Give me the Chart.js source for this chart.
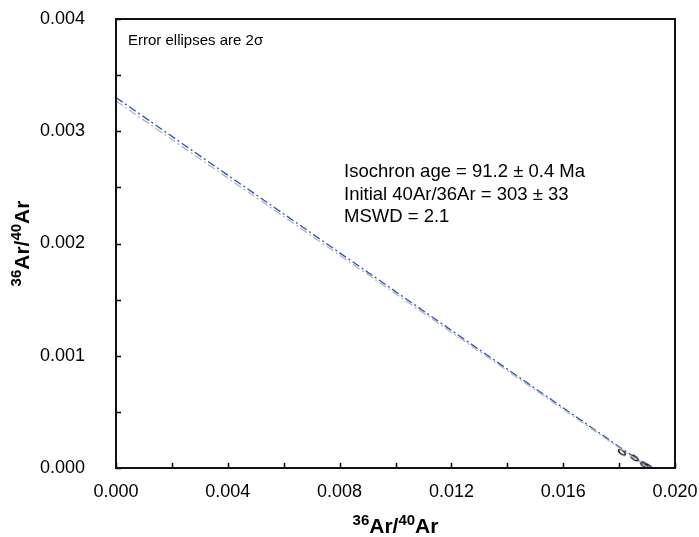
<!DOCTYPE html>
<html>
<head>
<meta charset="utf-8">
<script src="https://cdn.jsdelivr.net/npm/chart.js@4"></script>
<style>
    html, body { margin: 0; padding: 0; background: #fff; }
    #wrap { width: 699px; height: 537px; }
</style>
</head>
<body>
<div id="wrap"><canvas id="iso_chart" width="699" height="537"></canvas></div>
<script>
// isochron fit line and its companion (grey) line, as end points
const fitX = [0, 0.0191]
const fitY = [0.0033, 0]
const refX = [0, 0.01905]
const refY = [0.00327, 0]
// step points (error ellipses) near the x intercept
const stepX = [0.0181, 0.01855, 0.0189, 0.01905]
const stepY = [0.00014, 0.00009, 0.00003, 0.00001]
// axes
const xMin = 0, xMax = 0.020, xStep = 0.002, xLabelStep = 0.004
const yMin = 0, yMax = 0.004, yStep = 0.0005, yLabelStep = 0.001
const notes = ["Isochron age = 91.2 \u00b1 0.4 Ma", "Initial 40Ar/36Ar = 303 \u00b1 33", "MSWD = 2.1"]
const cornerNote = "Error ellipses are 2\u03c3"
const axisTitle = [{t: "36", sup: true}, {t: "Ar/"}, {t: "40", sup: true}, {t: "Ar"}]

const FONT = '"Liberation Sans", Arial, sans-serif'

function pairs(xs, ys) {
    let out = []
    for (let i = 0; i < xs.length; i++) out.push({x: xs[i], y: ys[i]})
    return out
}

function isMultiple(v, step) {
    let q = v / step
    return Math.abs(q - Math.round(q)) < 1e-6
}

// small rotated ellipse used as point marker
function ellipseMarker() {
    let c = document.createElement('canvas')
    c.width = 12
    c.height = 10
    let g = c.getContext('2d')
    g.strokeStyle = '#111'
    g.lineWidth = 1.4
    g.beginPath()
    g.ellipse(6, 5, 4, 1.8, 0.6, 0, Math.PI * 2)
    g.stroke()
    return c
}

function drawRich(ctx, parts, x, y) {
    let big = 'bold 21px ' + FONT
    let small = 'bold 15px ' + FONT
    let w = 0
    parts.forEach(function (p) {
        ctx.font = p.sup ? small : big
        w += ctx.measureText(p.t).width
    })
    let cx = x - w / 2
    ctx.textBaseline = 'alphabetic'
    ctx.textAlign = 'left'
    parts.forEach(function (p) {
        ctx.font = p.sup ? small : big
        ctx.fillText(p.t, cx, p.sup ? y - 8 : y)
        cx += ctx.measureText(p.t).width
    })
}

const framePlugin = {
    id: 'frame',
    afterDraw: function (chart) {
        let ctx = chart.ctx
        let a = chart.chartArea
        let xs = chart.scales.x
        let ys = chart.scales.y
        ctx.save()
        ctx.strokeStyle = '#000'
        ctx.lineWidth = 1.5
        // inward tick marks
        ctx.beginPath()
        ys.ticks.forEach(function (t) {
            let py = Math.round(ys.getPixelForValue(t.value)) + 0.5
            ctx.moveTo(a.left, py)
            ctx.lineTo(a.left + 5, py)
        })
        xs.ticks.forEach(function (t) {
            let px = Math.round(xs.getPixelForValue(t.value)) + 0.5
            ctx.moveTo(px, a.bottom)
            ctx.lineTo(px, a.bottom - 5)
        })
        ctx.stroke()
        // frame
        ctx.lineWidth = 2
        ctx.strokeStyle = '#111'
        ctx.strokeRect(a.left, a.top, a.right - a.left, a.bottom - a.top)

        ctx.fillStyle = '#000'
        ctx.font = '15px ' + FONT
        ctx.textAlign = 'left'
        ctx.textBaseline = 'alphabetic'
        ctx.fillText(cornerNote, a.left + 12, a.top + 26)

        ctx.font = '18.5px ' + FONT
        notes.forEach(function (n, i) {
            ctx.fillText(n, 344, 177 + i * 22.5)
        })

        // axis titles
        drawRich(ctx, axisTitle, (a.left + a.right) / 2, 533)
        ctx.translate(29, (a.top + a.bottom) / 2)
        ctx.rotate(-Math.PI / 2)
        drawRich(ctx, axisTitle, 0, 0)
        ctx.restore()
    }
}

let marker = ellipseMarker()
let ctx = document.getElementById('iso_chart')
let isoChart = new Chart(ctx, {
    type: 'scatter',
    plugins: [framePlugin],
    data: {
        datasets: [{
                type: 'line',
                data: pairs(refX, refY),
                borderColor: '#b4b4b4',
                borderWidth: 1.3,
                borderDash: [8, 3, 2, 3],
                pointRadius: 0,
                fill: false
            },
            {
                type: 'line',
                data: pairs(fitX, fitY),
                borderColor: '#2f4fb8',
                borderWidth: 1.3,
                borderDash: [8, 3, 2, 3],
                pointRadius: 0,
                fill: false
            },
            {
                data: pairs(stepX, stepY),
                pointStyle: marker,
                pointRadius: 5
            }
        ]
    },
    options: {
        responsive: false,
        animation: false,
        layout: {
            padding: {left: 0, top: 19, right: 24, bottom: 0}
        },
        plugins: {
            legend: {display: false},
            tooltip: {enabled: false}
        },
        scales: {
            x: {
                type: 'linear',
                min: xMin,
                max: xMax,
                border: {display: false},
                grid: {display: false, drawTicks: false},
                afterFit: function (s) {
                    s.height = 69
                    s.paddingLeft = 0
                    s.paddingRight = 0
                },
                ticks: {
                    stepSize: xStep,
                    autoSkip: false,
                    maxRotation: 0,
                    padding: 13,
                    color: '#000',
                    font: {family: FONT, size: 18},
                    callback: function (v) {
                        return isMultiple(v, xLabelStep) ? v.toFixed(3) : ''
                    }
                }
            },
            y: {
                type: 'linear',
                min: yMin,
                max: yMax,
                border: {display: false},
                grid: {display: false, drawTicks: false},
                afterFit: function (s) {
                    s.width = 116
                    s.paddingTop = 0
                    s.paddingBottom = 0
                },
                ticks: {
                    stepSize: yStep,
                    autoSkip: false,
                    padding: 31,
                    color: '#000',
                    font: {family: FONT, size: 18},
                    callback: function (v) {
                        return isMultiple(v, yLabelStep) ? v.toFixed(3) : ''
                    }
                }
            }
        }
    }
})
</script>
</body>
</html>
